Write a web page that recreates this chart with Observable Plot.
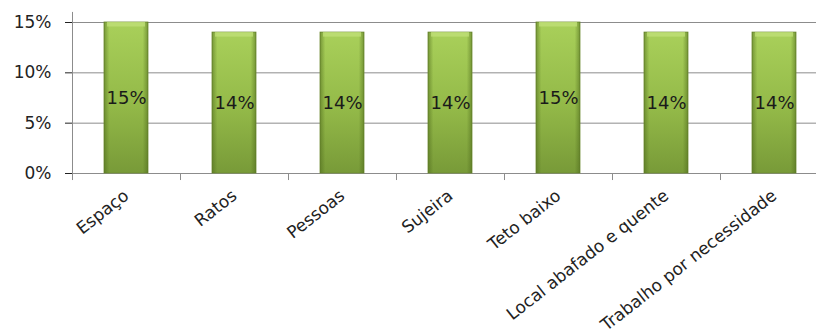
<!DOCTYPE html>
<html><head><meta charset="utf-8">
<script src="https://cdn.jsdelivr.net/npm/d3@7"></script>
<script src="https://cdn.jsdelivr.net/npm/@observablehq/plot@0.6"></script>
<style>body{margin:0;background:#fff;overflow:hidden;} svg{font-family:"DejaVu Sans",sans-serif;}</style>
</head><body><div id="chart"></div>
<script>
const categories = ["Espaço","Ratos","Pessoas","Sujeira","Teto baixo","Local abafado e quente","Trabalho por necessidade"];
const values = [15,14,14,14,15,14,14];
const yTicks = [0,5,10,15];

const data = categories.map((c,i)=>({cat:c, v:values[i]}));
const W = 816, H = 336, mL = 72, mR = 0, mT = 22, mB = 163;
const xRange = [72, 828];
const half = (xRange[1] - xRange[0]) / categories.length / 2;

const chart = Plot.plot({
  width: W, height: H,
  marginLeft: mL, marginRight: mR, marginTop: mT, marginBottom: mB,
  style: {fontSize: "17px", fontFamily: "'DejaVu Sans', sans-serif", color: "#222", overflow: "hidden"},
  x: {domain: categories, range: xRange, paddingInner: 0.59, paddingOuter: 0.295, label: null, tickSize: 0, tickRotate: -38, tickPadding: 20},
  y: {domain: [0,15], ticks: yTicks, tickFormat: d => d + "%", label: null, tickSize: 7, tickPadding: 14},
  marks: [
    Plot.ruleY(yTicks, {stroke: "#8c8c8c", strokeWidth: 1, strokeOpacity: 1}),
    Plot.ruleX([0], {x: () => categories[0], dx: -half, y1: 0, y2: 16, stroke: "#8c8c8c"}),
    Plot.ruleX(categories, {dx: -half, y1: 0, y2: -0.7, stroke: "#8c8c8c"}),
    Plot.barY(data, {x: "cat", y: "v", fill: "url(#gV)", stroke: "#6f8c33", strokeWidth: 0.8}),
    Plot.barY(data, {x: "cat", y: "v", fill: "url(#gH)"}),
    Plot.barY(data, {x: "cat", y1: d => d.v - 0.45, y2: "v", fill: "#c2e07a", fillOpacity: 0.75, insetLeft: 3, insetRight: 3}),
    Plot.text(data, {x: "cat", y: d => d.v / 2, text: d => d.v + "%", fill: "#1a1a1a", fontSize: 18})
  ]
});

const svg = d3.select(chart);
const defs = svg.insert("defs", ":first-child");
const gv = defs.append("linearGradient").attr("id","gV").attr("x1",0).attr("y1",0).attr("x2",0).attr("y2",1);
gv.append("stop").attr("offset","0%").attr("stop-color","#a9d05a");
gv.append("stop").attr("offset","55%").attr("stop-color","#93b948");
gv.append("stop").attr("offset","100%").attr("stop-color","#789a38");
const gh = defs.append("linearGradient").attr("id","gH").attr("x1",0).attr("y1",0).attr("x2",1).attr("y2",0);
gh.append("stop").attr("offset","0%").attr("stop-color","#4e6a1c").attr("stop-opacity",0.55);
gh.append("stop").attr("offset","12%").attr("stop-color","#4e6a1c").attr("stop-opacity",0);
gh.append("stop").attr("offset","88%").attr("stop-color","#4e6a1c").attr("stop-opacity",0);
gh.append("stop").attr("offset","100%").attr("stop-color","#4e6a1c").attr("stop-opacity",0.55);
document.getElementById("chart").appendChild(chart);
</script>
</body></html>
